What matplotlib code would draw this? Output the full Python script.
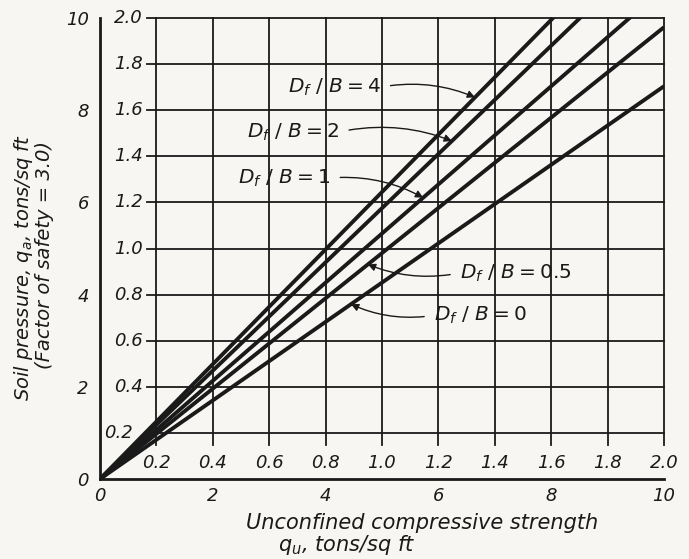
import numpy as np
import matplotlib.pyplot as plt

plt.rcParams['font.family'] = ['DejaVu Sans']
plt.rcParams['mathtext.fontset'] = 'dejavusans'
plt.rcParams['mathtext.default'] = 'it'

# data
df_b = [4, 2, 1, 0.5, 0]
slope = [1.245, 1.175, 1.065, 0.98, 0.852]   # q_a / q_u

outer_ticks = [0, 2, 4, 6, 8, 10]
inner_ticks = [1, 2, 3, 4, 5, 6, 7, 8, 9, 10]
inner_labels = ['0.2', '0.4', '0.6', '0.8', '1.0', '1.2', '1.4', '1.6', '1.8', '2.0']

# label placement (text x, text y, arrow head x)
label_pos = [(3.33, 8.50, 6.65), (2.61, 7.53, 6.24), (2.45, 6.53, 5.73),
             (6.38, 4.47, 4.75), (5.92, 3.55, 4.45)]

ink = '#1a1a1a'
paper = '#f7f6f2'

fig = plt.figure(figsize=(6.89, 5.59), dpi=100, facecolor=paper)
ax = fig.add_axes([0.1451, 0.1431, 0.8186, 0.8247])
ax.set_facecolor(paper)
ax.set_xlim(0, 10)
ax.set_ylim(0, 10)

# grid
for k in inner_ticks:
    ax.plot([k, k], [0.74, 10], color=ink, lw=1.3, clip_on=False)
    ax.plot([0.83, 10], [k, k], color=ink, lw=1.3, clip_on=False)

# lines
x = np.array([0, 10])
for s in slope:
    ax.plot(x, s * x, color=ink, lw=2.8, solid_capstyle='butt')

# labels with arrows
for d, s, (tx, ty, hx) in zip(df_b, slope, label_pos):
    txt = r"$D_f\ /\ B = %s$" % d
    rel = (0.0, 0.5) if hx < tx else (1.0, 0.5)
    ax.annotate(txt, xy=(hx, s * hx), xytext=(tx, ty), fontsize=14.5,
                ha='left', va='center', color=ink,
                arrowprops=dict(arrowstyle='-|>', color=ink, lw=1.0,
                                mutation_scale=11,
                                connectionstyle='arc3,rad=-0.15',
                                shrinkA=5, shrinkB=0, relpos=rel))

# inner scales
for k, lab in zip(inner_ticks, inner_labels):
    ax.text(k, 0.35, lab, ha='center', va='center', fontsize=13,
            style='italic', color=ink)
    ax.text(0.58 if k == 1 else 0.76, k, lab, ha='right', va='center',
            fontsize=13, style='italic', color=ink)

# outer scales
ax.set_xticks(outer_ticks)
ax.set_xticklabels([str(t) for t in outer_ticks], fontsize=13, style='italic', color=ink)
ax.set_yticks(outer_ticks)
ax.set_yticklabels([str(t) for t in outer_ticks], fontsize=13, style='italic', color=ink)
ax.tick_params(axis='x', length=0, pad=6)
ax.tick_params(axis='y', length=0, pad=8)

for side in ['top', 'right']:
    ax.spines[side].set_visible(False)
for side in ['left', 'bottom']:
    ax.spines[side].set_linewidth(2.0)
    ax.spines[side].set_color(ink)

fig.text(0.6125, 0.0644, "Unconfined compressive strength", ha='center',
         va='center', fontsize=15, style='italic', color=ink)
fig.text(0.5036, 0.0250, r"$q_u$, tons/sq ft", ha='center', va='center',
         fontsize=15, style='italic', color=ink)
fig.text(0.034, 0.522, r"Soil pressure, $q_a$, tons/sq ft", rotation=90,
         ha='center', va='center', fontsize=14, style='italic', color=ink)
fig.text(0.064, 0.544, "(Factor of safety = 3.0)", rotation=90,
         ha='center', va='center', fontsize=14, style='italic', color=ink)

fig.savefig("out.png", dpi=100, facecolor=paper)
